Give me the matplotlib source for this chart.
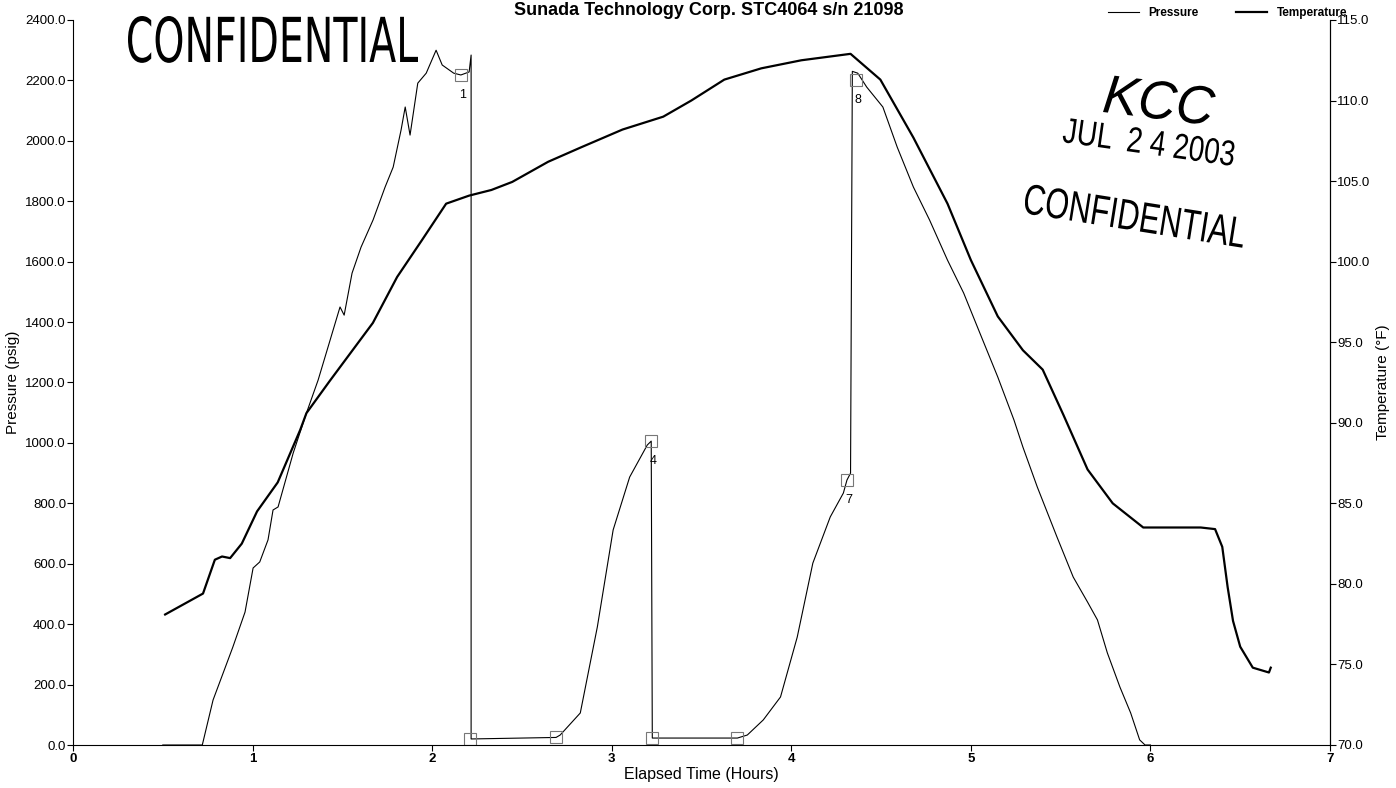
import numpy as np
import matplotlib
matplotlib.use("Agg")
from matplotlib import pyplot as plt
from matplotlib.textpath import TextPath
from matplotlib.patches import PathPatch
from matplotlib.font_manager import FontProperties
from matplotlib.transforms import Affine2D

title = "Sunada Technology Corp. STC4064 s/n 21098"

# pressure trace (hours, psig)
hours_p = [0.50, 0.72, 0.78, 0.836, 0.89, 0.958, 1.003, 1.04, 1.086, 1.114, 1.142,
           1.226, 1.30, 1.365, 1.42, 1.487, 1.51, 1.554, 1.604, 1.671, 1.738, 1.783,
           1.827, 1.85, 1.877, 1.92, 1.967, 2.022, 2.056, 2.12, 2.16, 2.206, 2.217,
           2.217, 2.69, 2.713, 2.825, 2.92, 3.008, 3.10, 3.198, 3.22, 3.226, 3.70,
           3.755, 3.844, 3.94, 4.033, 4.12, 4.217, 4.29, 4.31, 4.33, 4.34, 4.37,
           4.42, 4.51, 4.59, 4.68, 4.77, 4.87, 4.96, 5.05, 5.15, 5.24, 5.29, 5.37,
           5.48, 5.57, 5.65, 5.705, 5.76, 5.83, 5.89, 5.94, 5.97, 6.0]
pressure = [0, 0, 149, 238, 324, 440, 586, 606, 679, 778, 788,
            966, 1099, 1208, 1317, 1450, 1423, 1562, 1648, 1738, 1847, 1913,
            2036, 2112, 2019, 2191, 2224, 2300, 2251, 2224, 2218, 2228, 2284,
            20, 25, 33, 106, 391, 712, 887, 993, 1006, 23, 23,
            33, 83, 159, 357, 602, 755, 834, 877, 900, 2230, 2224,
            2178, 2112, 1979, 1847, 1738, 1605, 1496, 1364, 1218, 1076, 986, 854,
            688, 556, 473, 414, 305, 192, 106, 17, 0, 0]

# temperature trace (hours, deg F)
hours_t = [0.513, 0.724, 0.79, 0.83, 0.875, 0.94, 1.025, 1.14, 1.265, 1.30, 1.43,
           1.67, 1.805, 1.944, 2.078, 2.206, 2.33, 2.446, 2.646, 2.83, 3.06, 3.287,
           3.443, 3.627, 3.833, 4.056, 4.33, 4.496, 4.68, 4.87, 5.0, 5.15, 5.29,
           5.40, 5.515, 5.65, 5.79, 5.96, 6.13, 6.28, 6.36, 6.40, 6.43, 6.46, 6.50,
           6.57, 6.66, 6.67]
temperature = [78.1, 79.4, 81.5, 81.7, 81.6, 82.5, 84.5, 86.3, 89.55, 90.6, 92.6,
               96.2, 99.05, 101.35, 103.6, 104.1, 104.45, 104.95, 106.2, 107.1, 108.2, 109.0,
               110.0, 111.3, 112.0, 112.5, 112.9, 111.3, 107.7, 103.6, 100.1, 96.6, 94.5,
               93.3, 90.5, 87.1, 85.0, 83.5, 83.5, 83.5, 83.4, 82.3, 79.8, 77.7, 76.1,
               74.8, 74.5, 74.8]

# numbered event markers on the pressure trace
marker_hours = [2.16, 2.21, 2.69, 3.22, 3.226, 3.70, 4.31, 4.36]
marker_psig = [2218, 20, 25, 1006, 23, 23, 877, 2200]
marker_ids = ["1", "2", "3", "4", "5", "6", "7", "8"]

W, H = 1396, 788
plt.rcParams['font.family'] = ['Liberation Sans', 'DejaVu Sans']

fig = plt.figure(figsize=(W / 100, H / 100), dpi=100)
ax = fig.add_axes([73 / W, 1 - 745 / H, (1330 - 73) / W, (745 - 20) / H])
ax2 = ax.twinx()

lp, = ax.plot(hours_p, pressure, color='black', lw=0.8, label='Pressure')
ax.plot(marker_hours, marker_psig, ls='none', marker='s', ms=9, mfc='none',
        mec='#777777', mew=0.8)
for h, p, n in zip(marker_hours, marker_psig, marker_ids):
    if p > 100:
        ax.text(h + 0.01, p - 45, n, ha='center', va='top', fontsize=9)

lt, = ax2.plot(hours_t, temperature, color='black', lw=1.6, label='Temperature')

ax.set_xlim(0, 7)
ax.set_ylim(0, 2400)
ax2.set_ylim(70, 115)
ax.set_xticks(range(8))
ax.set_yticks(np.arange(0, 2401, 200))
ax2.set_yticks(np.arange(70, 116, 5))
ax.set_yticklabels(['%.1f' % v for v in np.arange(0, 2401, 200)])
ax2.set_yticklabels(['%.1f' % v for v in np.arange(70, 116, 5)])

for a in (ax, ax2):
    a.spines['top'].set_visible(False)
ax2.spines['left'].set_visible(False)
ax2.spines['bottom'].set_visible(False)
ax.tick_params(axis='y', direction='out', length=4, labelsize=9.5, pad=1)
ax2.tick_params(axis='y', direction='out', length=4, labelsize=9.5, pad=1)
ax.tick_params(axis='x', direction='out', length=4, labelsize=9.5, pad=2)
for t in ax.get_xticklabels():
    t.set_fontweight('bold')

ax.set_xlabel('Elapsed Time (Hours)', fontsize=11.5, labelpad=1)
ax.set_ylabel('Pressure (psig)', fontsize=11, labelpad=4)
ax2.set_ylabel('Temperature (°F)', fontsize=11, labelpad=4)

# the scan crops the title at the top edge; keep it just inside the picture
fig.text(709 / W, 1 - 15 / H, title, ha='center', va='baseline',
         fontsize=13, fontweight='bold')
fig.legend(handles=[lp, lt], loc='upper right', bbox_to_anchor=(1354 / W, 1.0),
           ncol=2, frameon=False, prop={'weight': 'bold', 'size': 8.5},
           handlelength=2.6, columnspacing=3.2, borderpad=0.1)


def stamp(text, x, y, width, height, angle=0, **font):
    # x, y: left end of the baseline in picture pixels (y from top)
    path = TextPath((0, 0), text, size=100, prop=FontProperties(**font))
    box = path.get_extents()
    tr = (Affine2D().translate(-box.x0, 0)
          .scale(width / box.width, height / box.y1)
          .rotate_deg(angle).translate(x, H - y))
    fig.add_artist(PathPatch(path, transform=tr, fc='black', ec='none'))


stamp('CONFIDENTIAL', 128, 62, 290, 46, family='DejaVu Sans')
stamp('KCC', 1103, 112, 110, 38, angle=-7, family='Liberation Sans', style='italic')
stamp('JUL  2 4 2003', 1062, 142, 172, 25, angle=-8, family='Liberation Sans')
stamp('CONFIDENTIAL', 1023, 213, 222, 30, angle=-9, family='Liberation Sans')

fig.savefig('out.png', dpi=100)
